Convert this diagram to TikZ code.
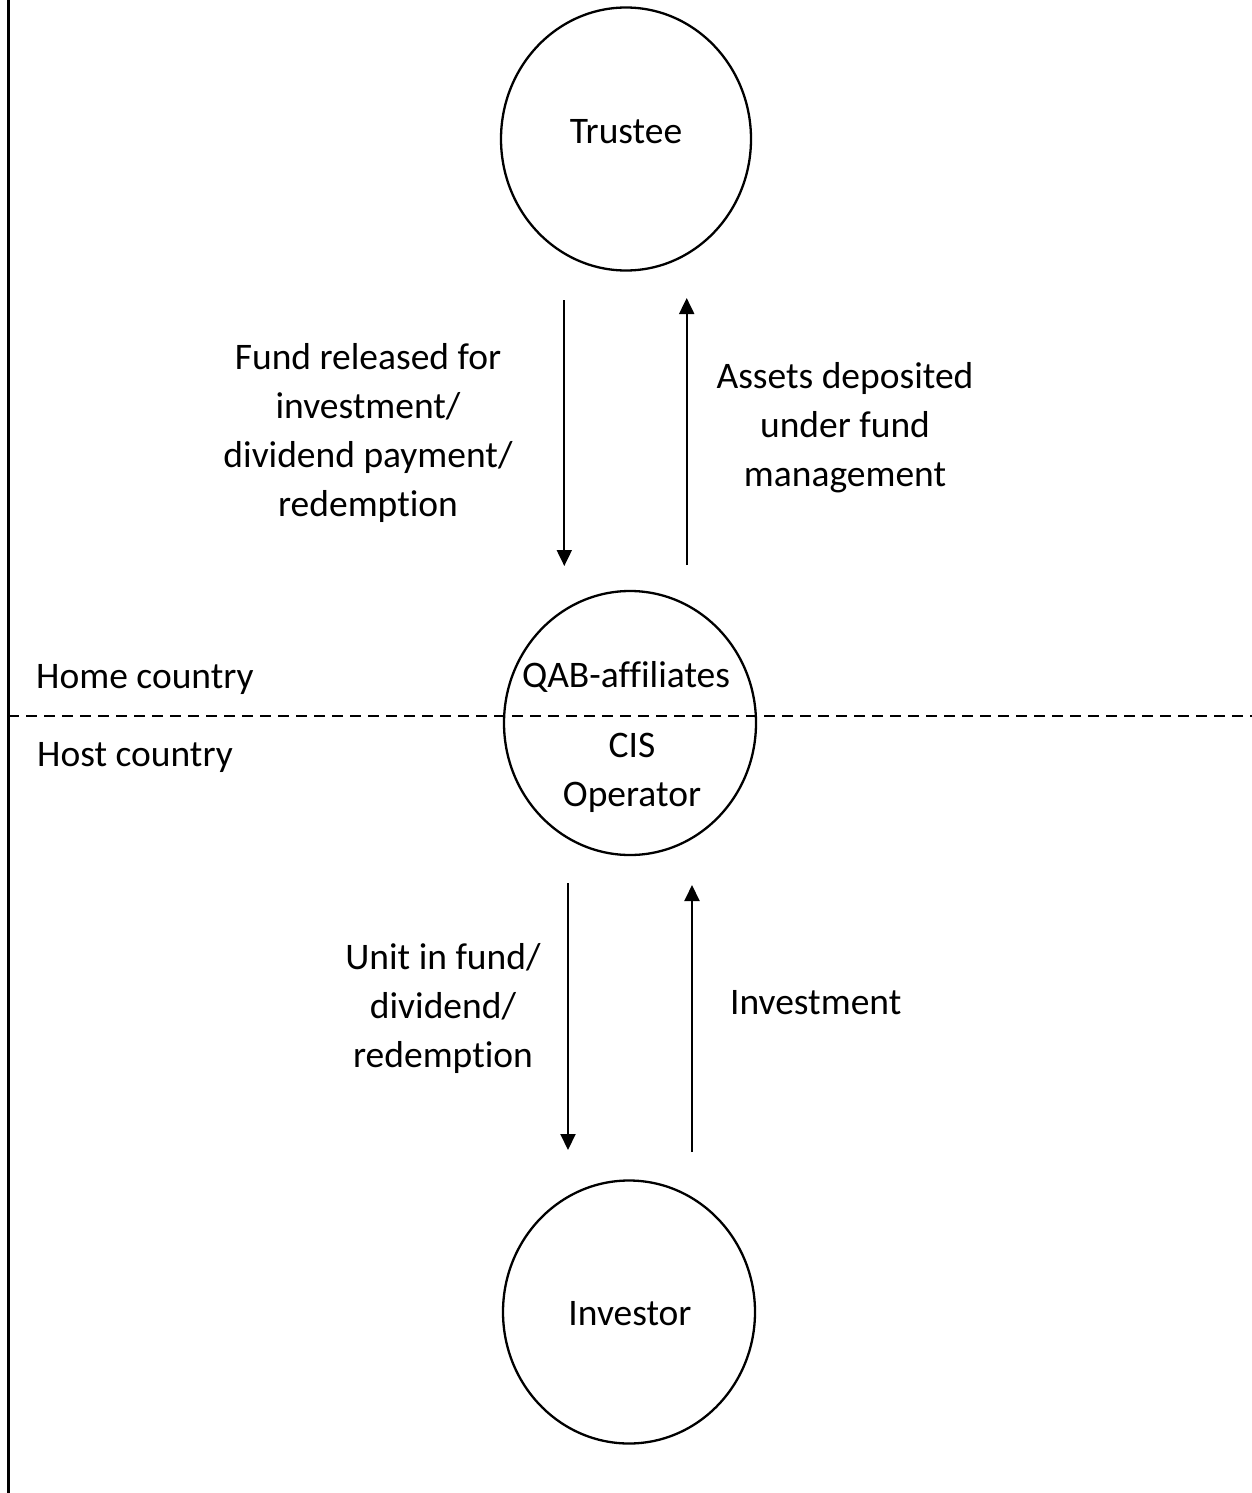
\documentclass[tikz,border=0pt]{standalone}
\usepackage{fontspec}
\setmainfont{Carlito}[Ligatures={NoCommon}]
\usetikzlibrary{shapes.geometric,arrows.meta}
\begin{document}
\begin{tikzpicture}[x=1pt,y=-1pt,
  party/.style={draw, ellipse, line width=2.3pt, inner sep=0pt},
  lbl/.style={align=center, inner sep=0pt, font=\fontsize{37.5}{49}\selectfont},
  flow/.style={line width=2pt, -{Triangle[width=15pt,length=16pt]}},
  divider/.style={line width=2.2pt, dash pattern=on 10.5pt off 7.5pt}]
\useasboundingbox (0,0) rectangle (1252,1493);
\fill[white] (0,0) rectangle (1252,1493);
% left border
\draw[line width=2.7pt] (8.7,0) -- (8.7,1493);
% divider
\coordinate (dl) at (8,716);
\coordinate (dr) at (1252,716);
\draw[divider] (dl) -- (dr);
% parties
\node[party, minimum width=250pt, minimum height=263pt] (trustee) at (626,139) {};
\node[party, minimum width=252pt, minimum height=264pt] (operator) at (630,723) {};
\node[party, minimum width=252pt, minimum height=263pt] (investor) at (629,1312) {};
\node[lbl] (ttext) at (626,132) {Trustee};
\node[lbl] (qab) at (626,676.5) {QAB-affiliates};
\node[lbl] (cis) at (632,772.5) {CIS\\Operator};
\node[lbl] (itext) at (630,1313.5) {Investor};
% country labels
\node[lbl, anchor=west] (home) at (36,679) {Home country};
\node[lbl, anchor=west] (host) at (37,757) {Host country};
% arrows upper
\coordinate (a1s) at (564.3,300);
\coordinate (a1e) at (564.3,566);
\coordinate (a2s) at (686.7,565);
\coordinate (a2e) at (686.7,298);
\draw[flow] (a1s) -- (a1e);
\draw[flow] (a2s) -- (a2e);
\node[lbl] (fund) at (368,432.5) {Fund released for\\investment/\\dividend payment/\\redemption};
\node[lbl] (assets) at (845,428) {Assets deposited\\under fund\\management};
% arrows lower
\coordinate (b1s) at (568,883);
\coordinate (b1e) at (568,1150);
\coordinate (b2s) at (692,1152);
\coordinate (b2e) at (692,885);
\draw[flow] (b1s) -- (b1e);
\draw[flow] (b2s) -- (b2e);
\node[lbl] (unit) at (443,1008.5) {Unit in fund/\\dividend/\\redemption};
\node[lbl, anchor=west] (invest) at (730,1003) {Investment};
\end{tikzpicture}
\end{document}
